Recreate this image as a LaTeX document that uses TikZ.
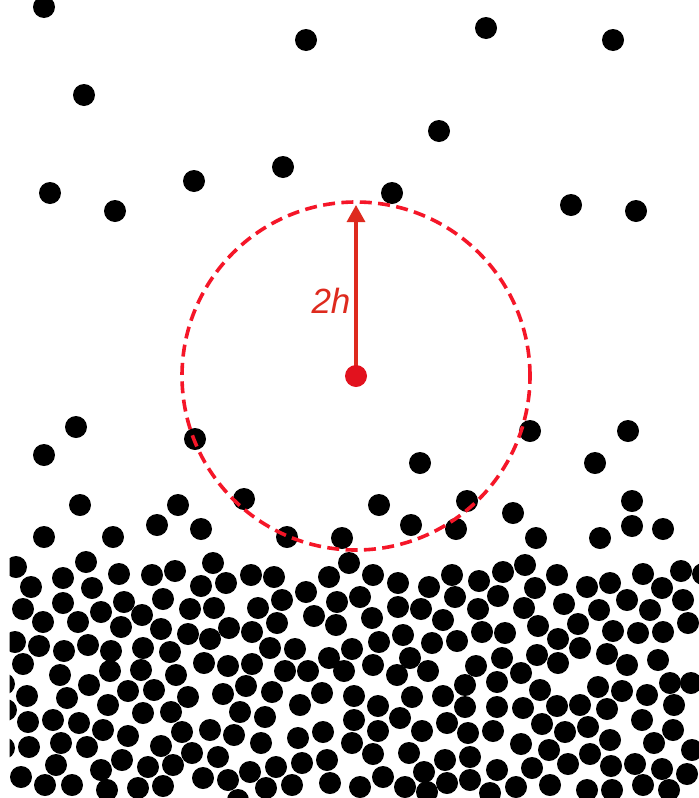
\documentclass[tikz,border=0pt]{standalone}
\usepackage{fontspec}
\setmainfont{Liberation Sans}
\usetikzlibrary{arrows.meta}
\definecolor{circred}{RGB}{245,22,40}
\definecolor{arrred}{RGB}{222,42,30}
\definecolor{dotred}{RGB}{226,18,30}
\begin{document}
\begin{tikzpicture}[x=0.5pt,y=-0.5pt,
  grain/.style={fill=black},
  ring/.style={draw=circred, line width=1.8pt, dash pattern=on 6pt off 3.2pt},
  pointer/.style={draw=arrred, line width=1.6pt, -{Triangle[length=8.5pt,width=9pt]}},
  lab/.style={text=arrred, font=\itshape\fontsize{17.5pt}{19pt}\selectfont, inner sep=0pt}]
\useasboundingbox (0,0) rectangle (699,798);
\fill[white] (0,0) rectangle (699,798);
\begin{scope}
\clip (9.5,0) rectangle (699,798);
% sparse top
\foreach \x/\y in {44/7, 306/40, 84/95, 283/167, 50/193, 194/181, 115/211, 486/28, 613/40, 439/131, 392/193, 571/205, 636/211}
  \fill[grain] (\x,\y) circle[radius=5.5pt];
% middle
\foreach \x/\y in {76/427, 44/455, 195/439, 80/505, 178/505, 244/499, 157/525, 201/529, 44/537, 113/537, 287/537, 342/538, 530/431, 628/431, 420/463, 595/463, 379/505, 467/501, 513/513, 632/501, 411/525, 456/529, 536/538, 600/538, 632/526, 663/529}
  \fill[grain] (\x,\y) circle[radius=5.5pt];
% dense
\foreach \x/\y in {16/567, 86/562, 63/578, 31/587, 119/574, 152/575, 175/571, 92/588, 63/603, 23/609, 124/602, 163/599, 101/612, 43/622, 78/622, 142/615, 121/627, 161/629, 15/642, 39/646, 64/651, 88/645, 111/651, 143/648, 170/652, 23/664, 60/675, 110/671, 141/670,
 213/563, 201/586, 226/583, 251/575, 274/577, 329/577, 349/563, 190/609, 214/608, 258/608, 282/600, 306/592, 337/602, 229/628, 252/632, 277/623, 314/616, 336/625, 188/634, 210/639, 270/648, 295/649, 329/658, 352/649, 204/663, 228/666, 252/664, 285/671, 308/671, 344/671,
 373/575, 398/583, 429/587, 452/575, 479/581, 503/572, 525/565, 360/597, 398/607, 421/609, 455/597, 478/609, 498/596, 524/608, 372/618, 443/620, 403/635, 379/642, 432/643, 457/641, 482/632, 505/633, 410/658, 373/665, 502/658, 476/666, 397/675, 428/671, 465/685, 521/673,
 557/575, 535/588, 587/587, 610/583, 643/574, 681/571, 703/574, 662/588, 564/604, 599/610, 627/600, 650/610, 683/600, 538/626, 578/624, 613/631, 638/633, 663/632, 688/623, 558/639, 580/648, 537/655, 607/654, 558/663, 627/665, 658/660,
 4/684, 27/696, 67/698, 89/685, 128/691, 154/690, 176/675, 108/705, 143/713, 171/712, 6/710, 28/722, 53/720, 79/723, 103/730, 128/736, 4/748, 29/747, 61/743, 87/747, 161/746, 122/760, 56/765, 101/770, 148/767, 173/765, 21/777, 45/785, 72/785, 107/790, 138/788, 163/786,
 188/697, 223/694, 246/686, 272/692, 300/705, 322/693, 240/712, 265/717, 182/732, 210/730, 234/735, 261/743, 298/738, 323/732, 192/753, 218/757, 250/772, 276/767, 302/763, 327/760, 203/778, 228/780, 266/788, 292/785, 330/783, 238/800,
 497/682, 354/696, 354/720, 352/743, 378/706, 412/697, 443/696, 465/707, 497/707, 523/708, 400/718, 378/731, 422/731, 447/723, 468/733, 493/731, 521/744, 373/754, 409/753, 445/760, 470/757, 497/770, 383/777, 424/772, 447/783, 470/780, 360/787, 405/787, 427/792, 490/793, 516/787,
 540/690, 598/687, 622/691, 647/695, 670/683, 691/683, 557/706, 580/705, 607/709, 674/705, 642/720, 542/724, 565/732, 588/727, 673/730, 610/740, 654/743, 549/750, 590/754, 692/750, 532/768, 568/764, 611/766, 635/764, 662/769, 687/774, 550/785, 587/790, 612/790, 643/785, 669/790}
  \fill[grain] (\x,\y) circle[radius=5.5pt];
\end{scope}
\coordinate (c) at (356,376);
\coordinate (tip) at (356,205);
\path[ring] (c) circle[radius=87pt];
\draw[pointer] (c) -- (tip);
\fill[dotred] (c) circle[radius=5.5pt];
\node[lab] (lbl) at (331,301) {2h};
\end{tikzpicture}
\end{document}
